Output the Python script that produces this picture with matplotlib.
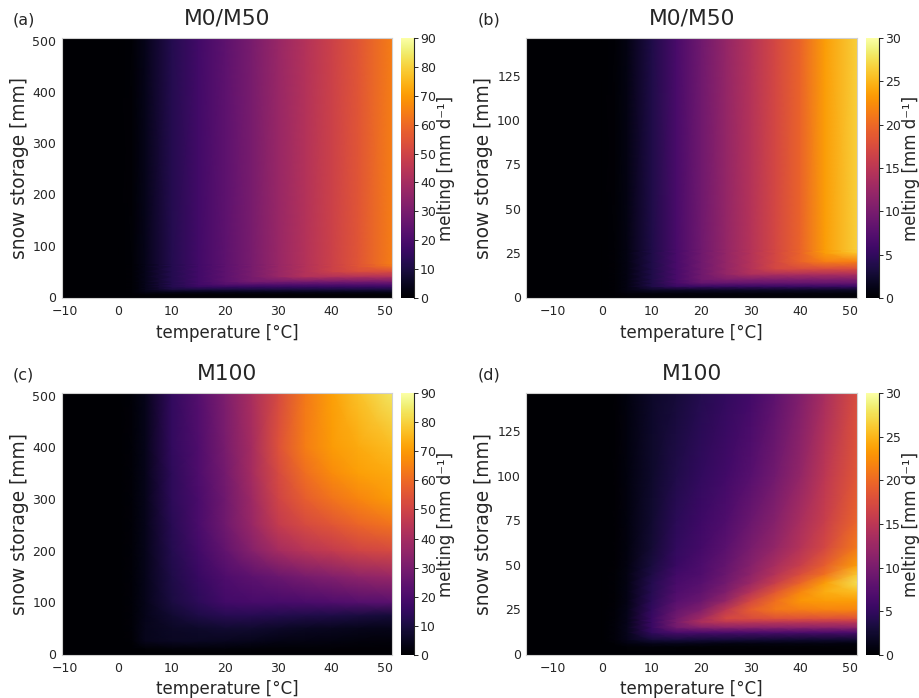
'''
Melting rate against temperature and snow storage for the M0/M50 and M100 cases
'''
import numpy as np
import matplotlib
matplotlib.use('Agg')
import matplotlib.pyplot as plt

# Values, rows are snow storage, columns are temperature
temp_a = [-10.6, 0, 2.5, 5, 10, 15, 20, 25, 30, 35, 40, 45, 51.3]
snow_a = [-2, 5, 10, 15, 20, 25, 30, 40, 50, 60, 65, 505]
melt_a = [
    [0, 0, 0, 0, 0, 0, 0, 0, 0, 0, 0, 0, 0],
    [0, 0.2, 0.5, 1, 1, 1, 1, 1, 1, 1, 1, 1, 1],
    [0, 0.3, 1, 3.5, 4, 4, 4, 4, 4, 4, 4, 4, 4],
    [0, 0.3, 1, 4, 10, 10, 10, 10, 10, 10, 10, 10, 10],
    [0, 0.3, 1, 4, 12, 16, 16, 16, 16, 16, 16, 16, 16],
    [0, 0.3, 1, 4, 12, 18, 22, 22, 22, 22, 22, 22, 22],
    [0, 0.3, 1, 4, 12, 18, 24, 29, 29, 29, 29, 29, 29],
    [0, 0.3, 1, 4, 12, 18, 24, 30, 37, 43, 43, 43, 43],
    [0, 0.3, 1, 4, 12, 18, 24, 30, 37, 43, 49, 53, 53],
    [0, 0.3, 1, 4, 12, 18, 24, 30, 37, 43, 49, 55, 62],
    [0, 0.3, 1, 4, 12, 18, 24, 30, 37, 43, 49, 55, 64],
    [0, 0.3, 1, 4, 12, 18, 24, 30, 37, 43, 49, 55, 64],
]

temp_b = [-15.3, 0, 2.5, 5, 10, 15, 20, 25, 30, 35, 40, 45, 51.5]
snow_b = [-0.6, 2, 4, 6, 8, 10, 13, 16, 20, 25, 27, 146.6]
melt_b = [
    [0, 0, 0, 0, 0, 0, 0, 0, 0, 0, 0, 0, 0],
    [0, 0, 0.2, 0.5, 0.6, 0.6, 0.6, 0.6, 0.6, 0.6, 0.6, 0.6, 0.6],
    [0, 0, 0.3, 1, 2, 2, 2, 2, 2, 2, 2, 2, 2],
    [0, 0, 0.3, 1, 3.7, 5.5, 5.5, 5.5, 5.5, 5.5, 5.5, 5.5, 5.5],
    [0, 0, 0.3, 1, 3.7, 6.5, 8.5, 8.5, 8.5, 8.5, 8.5, 8.5, 8.5],
    [0, 0, 0.3, 1, 3.7, 6.5, 9.3, 10.5, 10.5, 10.5, 10.5, 10.5, 10.5],
    [0, 0, 0.3, 1, 3.7, 6.5, 9.3, 12, 14, 14, 14, 14, 14],
    [0, 0, 0.3, 1, 3.7, 6.5, 9.3, 12, 14.5, 17, 17.5, 17.5, 17.5],
    [0, 0, 0.3, 1, 3.7, 6.5, 9.3, 12, 14.5, 17, 19.5, 21.5, 21.5],
    [0, 0, 0.3, 1, 3.7, 6.5, 9.3, 12, 14.5, 17, 19.5, 23.5, 26],
    [0, 0, 0.3, 1, 3.7, 6.5, 9.3, 12, 14.5, 17, 19.5, 23.5, 26.5],
    [0, 0, 0.3, 1, 3.7, 6.5, 9.3, 12, 14.5, 17, 19.5, 23.5, 26.5],
]

temp_c = [-10.6, 0, 2.5, 5, 10, 15, 20, 25, 30, 35, 40, 45, 51.3]
snow_c = [-2, 10, 25, 50, 75, 100, 150, 200, 250, 300, 350, 400, 505]
melt_c = [
    [0, 0, 0, 0, 0, 0, 0, 0, 0, 0, 0, 0, 0],
    [0, 0, 0.3, 1, 1.5, 1.5, 1.5, 1.2, 1, 1, 0.8, 0.7, 0.5],
    [0, 0.2, 1, 4.5, 5.5, 5.5, 5, 4.5, 3.5, 3, 2.5, 2, 1.5],
    [0, 0.2, 1.2, 4.5, 6, 7, 8, 7.5, 6.5, 5.5, 5, 4.5, 4],
    [0, 0.3, 1.2, 4, 8, 11, 13, 13, 12, 11.5, 11, 10, 9],
    [0, 0.3, 1.2, 4, 10, 14, 18, 19, 19, 20, 21, 22, 23],
    [0, 0.3, 1.2, 4, 11, 16, 21, 24, 27, 30, 32, 35, 37],
    [0, 0.3, 1.2, 4, 12, 18, 25, 33, 40, 44, 47, 50, 52],
    [0, 0.3, 1.2, 4, 13, 20, 28, 37, 47, 52, 55, 59, 62],
    [0, 0.3, 1.2, 4, 14, 20, 28, 38, 50, 57, 62, 66, 70],
    [0, 0.3, 1.2, 4, 14, 21, 29, 40, 52, 61, 67, 71, 73],
    [0, 0.3, 1.2, 4, 15, 21, 30, 40, 54, 64, 70, 73, 76],
    [0, 0.3, 1.2, 4, 15, 22, 31, 41, 52, 63, 71, 77, 84],
]

temp_d = [-15.3, 0, 2.5, 5, 10, 15, 20, 25, 30, 35, 40, 45, 51.5]
snow_d = [-0.6, 4, 6, 8, 12, 15, 18, 20, 25, 30, 35, 40, 45, 50, 60, 75, 100, 146.6]
melt_d = [
    [0, 0, 0, 0, 0, 0, 0, 0, 0, 0, 0, 0, 0],
    [0, 0, 0.1, 0.3, 0.5, 0.4, 0.3, 0.3, 0.3, 0.3, 0.3, 0.3, 0.3],
    [0, 0, 0.3, 0.9, 1.5, 1.5, 1.3, 1, 1, 1, 1, 1, 0.8],
    [0, 0.1, 0.5, 1.3, 3, 3.2, 3, 3, 2.8, 2.6, 2.5, 2.5, 2.5],
    [0, 0.1, 0.5, 1.5, 5, 6.5, 6.5, 6.5, 6.5, 6.5, 6.5, 6.5, 6.5],
    [0, 0.1, 0.5, 1.5, 5.5, 9.5, 11, 11.5, 11.5, 11.5, 11.5, 11.5, 11.5],
    [0, 0.1, 0.5, 1.4, 5.5, 10, 14, 15, 15, 15, 15, 15, 15],
    [0, 0.1, 0.4, 1.3, 5.5, 9.5, 13, 17, 17.5, 18, 18, 18, 18],
    [0, 0.1, 0.4, 1.2, 5, 8.5, 10.5, 15, 19, 21, 21.5, 22, 22],
    [0, 0.1, 0.3, 1.1, 4.5, 7.5, 9, 12, 17, 20.5, 23, 23.5, 23.5],
    [0, 0.1, 0.3, 1.1, 4.2, 7, 8.2, 10.5, 14.5, 18.5, 22, 24.5, 25.5],
    [0, 0.1, 0.3, 1, 4, 6.5, 7.5, 9.5, 12.5, 16, 19.5, 23.5, 27.5],
    [0, 0.1, 0.3, 1, 3.6, 6, 7, 9, 11.5, 14.5, 17.5, 20.5, 26],
    [0, 0.1, 0.2, 0.9, 3.2, 5.5, 6.8, 8.5, 11, 13.5, 16, 19, 23.5],
    [0, 0.1, 0.2, 0.8, 2.8, 5, 6.2, 7.8, 10, 12, 14.5, 17, 21],
    [0, 0.1, 0.2, 0.8, 2.5, 4.5, 5.8, 7, 9, 11, 13.5, 16, 19.5],
    [0, 0.1, 0.2, 0.8, 2.3, 3.8, 5, 6, 7.5, 9.5, 12, 15, 18.5],
    [0, 0.1, 0.2, 0.8, 2.2, 3, 4, 5, 6, 8, 10.5, 13.5, 17.5],
]

xticks_left = [-10, 0, 10, 20, 30, 40, 50]
yticks_left = [0, 100, 200, 300, 400, 500]
yticks_right = [0, 25, 50, 75, 100, 125]
cticks_left = [0, 10, 20, 30, 40, 50, 60, 70, 80, 90]
cticks_right = [0, 5, 10, 15, 20, 25, 30]

W, H = 920, 698
ink = '#262626'


def axes_px(x0, y0, x1, y1):
    return [x0 / W, 1 - y1 / H, (x1 - x0) / W, (y1 - y0) / H]


def panel(letter, title, temp, snow, melt, vmax, yticks, x0, x1, y0, y1, lab_x):
    ax = fig.add_axes(axes_px(x0, y0, x1, y1))
    mesh = ax.pcolormesh(temp, snow, np.array(melt), cmap='inferno', vmin=0, vmax=vmax,
                         shading='gouraud', rasterized=True)
    ax.set_xlim(temp[0], temp[-1])
    ax.set_ylim(snow[0], snow[-1])
    ax.set_xticks(xticks_left)
    ax.set_yticks(yticks)
    ax.tick_params(length=0, labelsize=9, pad=5, colors=ink)
    ax.tick_params(axis='y', pad=4)
    for s in ax.spines.values():
        s.set_color('#d0d0d0')
        s.set_linewidth(0.8)
    ax.set_xlabel('temperature [°C]', fontsize=12, color=ink, labelpad=4)
    ax.set_ylabel('snow storage [mm]', fontsize=13.4, color=ink)
    ax.yaxis.set_label_coords(-33 / (x1 - x0), 0.5)
    fig.text((x0 + x1) / 2 / W, 1 - (y0 - 19) / H, title, fontsize=15.7, ha='center', va='center', color=ink)
    fig.text(lab_x / W, 1 - (y0 - 18) / H, letter, fontsize=11.5, ha='left', va='center', color=ink)

    cax = fig.add_axes(axes_px(x1 + 9.5, y0, x1 + 22.5, y1))
    cb = fig.colorbar(mesh, cax=cax)
    cb.set_ticks(cticks_left if vmax == 90 else cticks_right)
    cb.ax.tick_params(length=3, width=0.7, labelsize=9, pad=1, colors=ink, direction='out')
    cb.outline.set_visible(False)
    cb.ax.spines['right'].set_visible(True)
    cb.ax.spines['right'].set_color(ink)
    cb.set_label('melting [mm d⁻¹]', fontsize=12, color=ink)
    cb.ax.yaxis.set_label_coords(35.5 / 13, 0.5)
    return ax


fig = plt.figure(figsize=(W / 100, H / 100), dpi=100)

panel('(a)', 'M0/M50', temp_a, snow_a, melt_a, 90, yticks_left, 62, 392, 38, 298, 13)
panel('(b)', 'M0/M50', temp_b, snow_b, melt_b, 30, yticks_right, 526.5, 857, 38, 298, 478)
panel('(c)', 'M100', temp_c, snow_c, melt_c, 90, yticks_left, 62, 392, 393, 655, 13)
panel('(d)', 'M100', temp_d, snow_d, melt_d, 30, yticks_right, 526.5, 857, 393, 655, 478)

plt.savefig('out.png', dpi=100)
